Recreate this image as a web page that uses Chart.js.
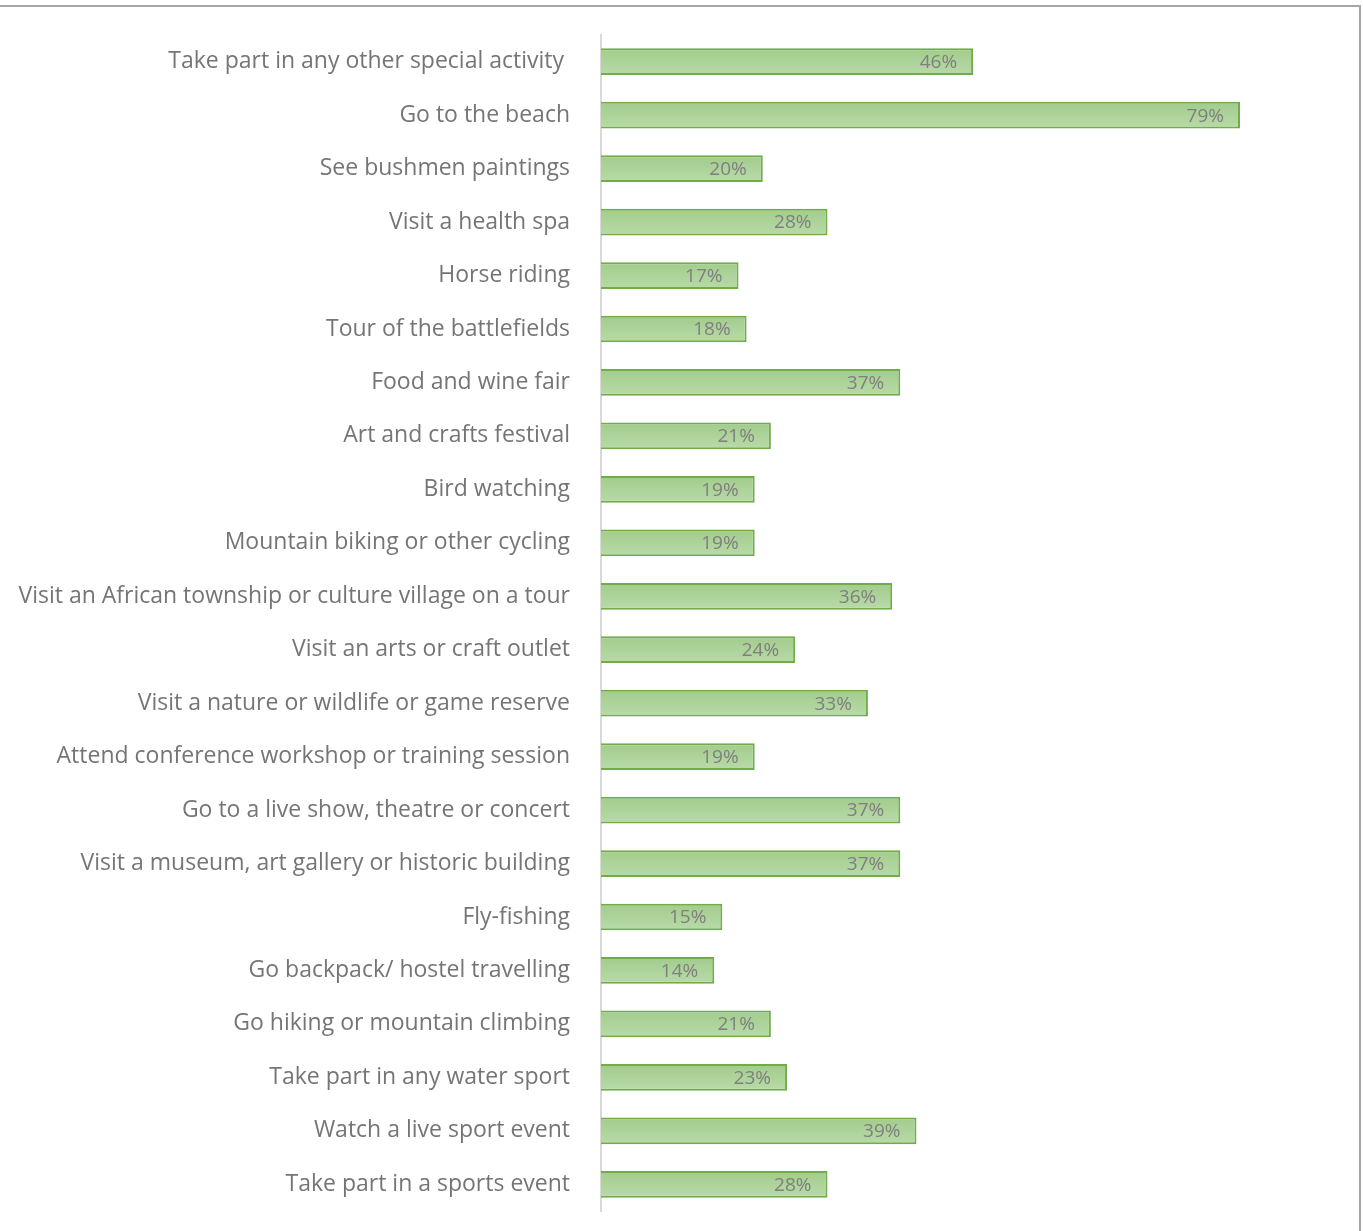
<!DOCTYPE html>
<html>
<head>
<meta charset="utf-8">
<script src="https://cdn.jsdelivr.net/npm/chart.js@4/dist/chart.umd.min.js"></script>
<style>
  html, body { margin: 0; padding: 0; background: #fff; }
  #wrap { position: relative; width: 1363px; height: 1231px; overflow: hidden; }
  #frame { position: absolute; left: -4px; top: 5px; width: 1365px; height: 1240px;
           border: 2px solid #a6a6a6; box-sizing: border-box; }
  canvas { position: absolute; left: 0; top: 0; }
</style>
</head>
<body>
<div id="wrap">
  <div id="frame"></div>
  <canvas id="activityChart" width="1363" height="1231"></canvas>
</div>
<script>
const categories = [
  'Take part in any other special activity ',
  'Go to the beach',
  'See bushmen paintings',
  'Visit a health spa',
  'Horse riding',
  'Tour of the battlefields',
  'Food and wine fair',
  'Art and crafts festival',
  'Bird watching',
  'Mountain biking or other cycling',
  'Visit an African township or culture village on a tour',
  'Visit an arts or craft outlet',
  'Visit a nature or wildlife or game reserve',
  'Attend conference workshop or training session',
  'Go to a live show, theatre or concert',
  'Visit a museum, art gallery or historic building',
  'Fly-fishing',
  'Go backpack/ hostel travelling',
  'Go hiking or mountain climbing',
  'Take part in any water sport',
  'Watch a live sport event',
  'Take part in a sports event'
];
const shares = [0.46, 0.79, 0.20, 0.28, 0.17, 0.18, 0.37, 0.21, 0.19, 0.19, 0.36,
                0.24, 0.33, 0.19, 0.37, 0.37, 0.15, 0.14, 0.21, 0.23, 0.39, 0.28];
const axisMax = 0.9;

const FONT = '"Open Sans", Lato, sans-serif';

// value labels inside the end of each bar
const barLabels = {
  id: 'barLabels',
  afterDatasetsDraw(chart) {
    const ctx = chart.ctx;
    const meta = chart.getDatasetMeta(0);
    ctx.save();
    ctx.font = '19px ' + FONT;
    ctx.fillStyle = '#7f7f7f';
    ctx.textAlign = 'right';
    ctx.textBaseline = 'middle';
    meta.data.forEach(function(bar, i) {
      ctx.fillText(Math.round(shares[i] * 100) + '%', bar.x - 16, bar.y + 1);
    });
    ctx.restore();
  }
};

function barGradient(context) {
  const chart = context.chart;
  const yScale = chart.scales.y;
  if (!chart.chartArea || !yScale || context.dataIndex === undefined) return '#aed49b';
  const yc = yScale.getPixelForValue(context.dataIndex);
  const g = chart.ctx.createLinearGradient(0, yc - 13, 0, yc + 13);
  g.addColorStop(0, '#a2cc8c');
  g.addColorStop(1, '#b8daa8');
  return g;
}

const ctx = document.getElementById('activityChart').getContext('2d');
new Chart(ctx, {
  type: 'bar',
  data: {
    labels: categories,
    datasets: [{
      data: shares,
      backgroundColor: barGradient,
      borderColor: '#70ad47',
      borderWidth: 2,
      borderSkipped: 'left',
      categoryPercentage: 1,
      barPercentage: 0.5
    }]
  },
  options: {
    indexAxis: 'y',
    responsive: false,
    animation: false,
    layout: { padding: { top: 35, bottom: 20, right: 34, left: 0 } },
    plugins: {
      legend: { display: false },
      tooltip: { enabled: false }
    },
    scales: {
      x: {
        display: false,
        min: 0,
        max: axisMax
      },
      y: {
        afterFit: function(scale) {
          scale.width = 601;
          scale.paddingTop = 0;
          scale.paddingBottom = 0;
        },
        grid: { display: false, drawTicks: false },
        border: { display: true, color: '#d9d9d9', width: 2 },
        ticks: {
          padding: 31,
          color: '#757575',
          font: { family: FONT, size: 23 }
        }
      }
    }
  },
  plugins: [barLabels]
});
</script>
</body>
</html>
